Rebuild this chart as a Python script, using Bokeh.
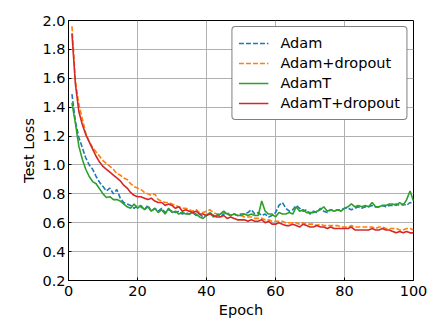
from bokeh.plotting import figure
from bokeh.models import FixedTicker, Legend, LegendItem, Range1d, CustomJSTickFormatter
from bokeh.embed import file_html
from bokeh.resources import INLINE

epochs = list(range(1, 101))

adam = [1.49, 1.30, 1.19, 1.12, 1.05, 1.00, 0.97, 0.92, 0.88, 0.85,
        0.82, 0.84, 0.80, 0.83, 0.77, 0.74, 0.73, 0.72, 0.70, 0.72,
        0.71, 0.69, 0.72, 0.68, 0.70, 0.68, 0.70, 0.67, 0.69, 0.68,
        0.67, 0.68, 0.66, 0.67, 0.66, 0.67, 0.65, 0.66, 0.64, 0.65,
        0.67, 0.65, 0.66, 0.64, 0.66, 0.67, 0.65, 0.66, 0.65, 0.66,
        0.66, 0.67, 0.69, 0.66, 0.67, 0.65, 0.66, 0.64, 0.65, 0.67,
        0.72, 0.74, 0.70, 0.68, 0.69, 0.72, 0.70, 0.68, 0.69, 0.66,
        0.68, 0.67, 0.70, 0.68, 0.67, 0.69, 0.68, 0.69, 0.69, 0.70,
        0.70, 0.69, 0.70, 0.71, 0.70, 0.71, 0.71, 0.72, 0.71, 0.71,
        0.72, 0.71, 0.72, 0.72, 0.73, 0.72, 0.73, 0.72, 0.74, 0.73]

adam_dropout = [1.96, 1.58, 1.42, 1.32, 1.22, 1.16, 1.12, 1.09, 1.06, 1.03,
                1.01, 0.99, 0.97, 0.94, 0.93, 0.91, 0.90, 0.87, 0.85, 0.84,
                0.83, 0.81, 0.80, 0.79, 0.80, 0.76, 0.75, 0.74, 0.74, 0.73,
                0.72, 0.71, 0.70, 0.70, 0.69, 0.68, 0.69, 0.67, 0.67, 0.68,
                0.69, 0.67, 0.66, 0.66, 0.67, 0.66, 0.65, 0.66, 0.65, 0.65,
                0.64, 0.64, 0.64, 0.63, 0.63, 0.63, 0.62, 0.62, 0.61, 0.61,
                0.61, 0.61, 0.60, 0.60, 0.60, 0.60, 0.59, 0.60, 0.59, 0.59,
                0.59, 0.58, 0.59, 0.58, 0.58, 0.58, 0.58, 0.58, 0.57, 0.57,
                0.57, 0.58, 0.57, 0.57, 0.57, 0.57, 0.57, 0.57, 0.56, 0.57,
                0.57, 0.56, 0.56, 0.56, 0.56, 0.55, 0.55, 0.56, 0.56, 0.55]

adamt = [1.43, 1.29, 1.13, 1.04, 0.97, 0.92, 0.885, 0.87, 0.835, 0.80,
         0.775, 0.78, 0.76, 0.76, 0.75, 0.73, 0.71, 0.70, 0.73, 0.70,
         0.72, 0.69, 0.71, 0.68, 0.70, 0.67, 0.69, 0.66, 0.70, 0.67,
         0.68, 0.66, 0.67, 0.66, 0.66, 0.67, 0.66, 0.64, 0.63, 0.65,
         0.67, 0.64, 0.65, 0.66, 0.68, 0.66, 0.65, 0.66, 0.65, 0.65,
         0.66, 0.65, 0.66, 0.65, 0.65, 0.75, 0.68, 0.66, 0.66, 0.64,
         0.67, 0.66, 0.66, 0.67, 0.66, 0.71, 0.68, 0.69, 0.67, 0.67,
         0.67, 0.68, 0.69, 0.71, 0.68, 0.69, 0.68, 0.69, 0.68, 0.70,
         0.71, 0.73, 0.71, 0.72, 0.71, 0.72, 0.71, 0.74, 0.71, 0.71,
         0.72, 0.72, 0.73, 0.73, 0.72, 0.74, 0.72, 0.76, 0.82, 0.75]

adamt_dropout = [1.91, 1.56, 1.37, 1.28, 1.21, 1.16, 1.11, 1.06, 1.02, 0.99,
                 0.97, 0.95, 0.93, 0.91, 0.89, 0.86, 0.84, 0.81, 0.79, 0.78,
                 0.78, 0.77, 0.76, 0.77, 0.75, 0.74, 0.74, 0.72, 0.73, 0.72,
                 0.70, 0.71, 0.68, 0.69, 0.68, 0.67, 0.68, 0.66, 0.66, 0.65,
                 0.66, 0.65, 0.64, 0.64, 0.65, 0.63, 0.64, 0.63, 0.62, 0.62,
                 0.62, 0.61, 0.62, 0.61, 0.61, 0.62, 0.60, 0.61, 0.59, 0.59,
                 0.60, 0.59, 0.58, 0.58, 0.59, 0.58, 0.57, 0.59, 0.58, 0.57,
                 0.57, 0.58, 0.57, 0.57, 0.56, 0.57, 0.56, 0.56, 0.56, 0.56,
                 0.56, 0.57, 0.55, 0.55, 0.55, 0.55, 0.55, 0.56, 0.55, 0.55,
                 0.56, 0.55, 0.55, 0.54, 0.53, 0.54, 0.53, 0.54, 0.53, 0.53]

x_ticks = [0, 20, 40, 60, 80, 100]
y_ticks = [0.2, 0.4, 0.6, 0.8, 1.0, 1.2, 1.4, 1.6, 1.8, 2.0]

series = [
    ("Adam", adam, "#1f77b4", "5 2"),
    ("Adam+dropout", adam_dropout, "#ff7f0e", "5 2"),
    ("AdamT", adamt, "#2ca02c", "solid"),
    ("AdamT+dropout", adamt_dropout, "#d62728", "solid"),
]

FONT = "DejaVu Sans"
FS = "14.5px"

p = figure(frame_width=345, frame_height=260, output_backend="svg", toolbar_location=None,
           x_range=Range1d(0, 100), y_range=Range1d(0.2, 2.0),
           min_border_left=68, min_border_right=20, min_border_top=20,
           min_border_bottom=40)
p.background_fill_color = "white"
p.border_fill_color = "white"
p.outline_line_color = "black"
p.outline_line_width = 1
p.outline_line_alpha = 1

items = []
for name, vals, color, dash in series:
    r = p.line(epochs, vals, line_color=color, line_width=1.6, line_dash=dash)
    items.append(LegendItem(label=name, renderers=[r]))

for ax in (p.xaxis[0], p.yaxis[0]):
    ax.major_tick_in = 3
    ax.major_tick_out = 0
    ax.minor_tick_line_color = None
    ax.axis_line_color = "black"
    ax.major_tick_line_color = "black"
    ax.major_label_text_font = FONT
    ax.major_label_text_font_size = FS
    ax.major_label_text_color = "black"
    ax.axis_label_text_font = FONT
    ax.axis_label_text_font_size = FS
    ax.axis_label_text_font_style = "normal"
    ax.axis_label_text_color = "black"

p.xaxis.ticker = FixedTicker(ticks=x_ticks)
p.yaxis.ticker = FixedTicker(ticks=y_ticks)
p.yaxis.formatter = CustomJSTickFormatter(code="return tick.toFixed(1);")
p.xaxis.axis_label = "Epoch"
p.yaxis.axis_label = "Test Loss"
p.xaxis.major_label_standoff = 5
p.yaxis.major_label_standoff = 3
p.xaxis.axis_label_standoff = 3
p.yaxis.axis_label_standoff = 2

p.grid.grid_line_color = "#b0b0b0"
p.grid.grid_line_width = 1
p.grid.grid_line_alpha = 1

legend = Legend(items=items, location="top_right")
legend.margin = 6
legend.padding = 6
legend.spacing = 0
legend.label_height = 20
legend.glyph_height = 20
legend.glyph_width = 30
legend.label_standoff = 12
legend.label_text_font = FONT
legend.label_text_font_size = FS
legend.label_text_color = "black"
legend.border_line_color = "black"
legend.border_line_width = 1
legend.background_fill_alpha = 1
if "border_radius" in legend.properties():
    legend.border_radius = 4
p.add_layout(legend, "center")

open("out.html", "w").write(file_html(p, INLINE))
